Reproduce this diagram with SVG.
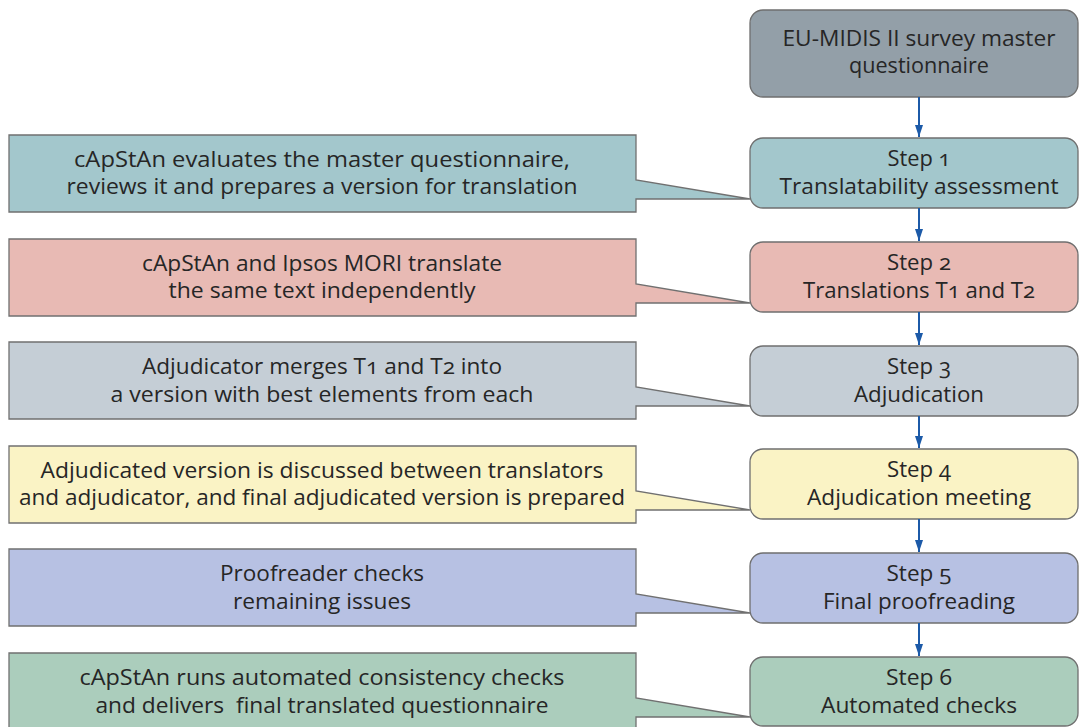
<svg xmlns="http://www.w3.org/2000/svg" width="1079" height="727" viewBox="0 0 1079 727">
<defs>
<marker id="ah" markerWidth="12" markerHeight="8" refX="12" refY="4" orient="auto" markerUnits="userSpaceOnUse" viewBox="0 0 12 8">
<path d="M0,0 L12,4 L0,8 Z" fill="#1c5aa8"/>
</marker>
<style>
text{font-family:"Open Sans","Noto Sans","Liberation Sans",sans-serif;font-size:21px;fill:#262626;text-anchor:middle;font-variant-numeric:oldstyle-nums}
.box{stroke:#6f6f6f;stroke-width:1.3}
.co{stroke:#707070;stroke-width:1.3;stroke-linejoin:miter}
.conn{stroke:#1c5aa8;stroke-width:2;fill:none}
.g0{fill:#939fa8}.g1{fill:#a3c7cc}.g2{fill:#e8bab4}.g3{fill:#c5ced6}.g4{fill:#faf3c5}.g5{fill:#b7c1e3}.g6{fill:#abcdbc}
</style>
</defs>
<rect width="1079" height="727" fill="#ffffff"/>

<g id="callout1">
<path class="co g1" d="M9,135 H636 V180 L750,199 H636 V212 H9 Z"/>
<text x="322" y="167" textLength="496" lengthAdjust="spacingAndGlyphs">cApStAn evaluates the master questionnaire,</text>
<text x="322" y="194" textLength="511" lengthAdjust="spacingAndGlyphs">reviews it and prepares a version for translation</text>
</g>
<g id="callout2">
<path class="co g2" d="M9,239 H636 V284 L750,303 H636 V316 H9 Z"/>
<text x="322" y="271" textLength="360" lengthAdjust="spacingAndGlyphs">cApStAn and Ipsos MORI translate</text>
<text x="322" y="298" textLength="307" lengthAdjust="spacingAndGlyphs">the same text independently</text>
</g>
<g id="callout3">
<path class="co g3" d="M9,342 H636 V387 L750,406 H636 V419 H9 Z"/>
<text x="322" y="374" textLength="360" lengthAdjust="spacingAndGlyphs">Adjudicator merges T1 and T2 into</text>
<text x="322" y="402" textLength="423" lengthAdjust="spacingAndGlyphs">a version with best elements from each</text>
</g>
<g id="callout4">
<path class="co g4" d="M9,446 H636 V491 L750,510 H636 V523 H9 Z"/>
<text x="322" y="478" textLength="563" lengthAdjust="spacingAndGlyphs">Adjudicated version is discussed between translators</text>
<text x="322" y="505" textLength="606" lengthAdjust="spacingAndGlyphs">and adjudicator, and final adjudicated version is prepared</text>
</g>
<g id="callout5">
<path class="co g5" d="M9,549 H636 V594 L750,613 H636 V626 H9 Z"/>
<text x="322" y="581" textLength="204" lengthAdjust="spacingAndGlyphs">Proofreader checks</text>
<text x="322" y="609" textLength="178" lengthAdjust="spacingAndGlyphs">remaining issues</text>
</g>
<g id="callout6">
<path class="co g6" d="M9,653 H636 V698 L750,717 H636 V730 H9 Z"/>
<text x="322" y="685" textLength="485" lengthAdjust="spacingAndGlyphs">cApStAn runs automated consistency checks</text>
<text x="322" y="713" textLength="453" lengthAdjust="spacingAndGlyphs" xml:space="preserve">and delivers  final translated questionnaire</text>
</g>

<g id="master">
<rect class="box g0" x="750" y="10" width="328" height="87" rx="13"/>
<text x="919" y="46" textLength="273" lengthAdjust="spacingAndGlyphs">EU-MIDIS II survey master</text>
<text x="919" y="73" textLength="140" lengthAdjust="spacingAndGlyphs">questionnaire</text>
</g>
<g id="step1">
<rect class="box g1" x="750" y="138" width="328" height="70" rx="13"/>
<text x="919" y="166" textLength="63" lengthAdjust="spacingAndGlyphs">Step 1</text>
<text x="919" y="194" textLength="279" lengthAdjust="spacingAndGlyphs">Translatability assessment</text>
</g>
<g id="step2">
<rect class="box g2" x="750" y="242" width="328" height="70" rx="13"/>
<text x="919" y="270" textLength="64" lengthAdjust="spacingAndGlyphs">Step 2</text>
<text x="919" y="298" textLength="232" lengthAdjust="spacingAndGlyphs">Translations T1 and T2</text>
</g>
<g id="step3">
<rect class="box g3" x="750" y="346" width="328" height="70" rx="13"/>
<text x="919" y="374" textLength="64" lengthAdjust="spacingAndGlyphs">Step 3</text>
<text x="919" y="402" textLength="130" lengthAdjust="spacingAndGlyphs">Adjudication</text>
</g>
<g id="step4">
<rect class="box g4" x="750" y="449" width="328" height="70" rx="13"/>
<text x="919" y="477" textLength="64" lengthAdjust="spacingAndGlyphs">Step 4</text>
<text x="919" y="505" textLength="224" lengthAdjust="spacingAndGlyphs">Adjudication meeting</text>
</g>
<g id="step5">
<rect class="box g5" x="750" y="553" width="328" height="70" rx="13"/>
<text x="919" y="581" textLength="65" lengthAdjust="spacingAndGlyphs">Step 5</text>
<text x="919" y="609" textLength="192" lengthAdjust="spacingAndGlyphs">Final proofreading</text>
</g>
<g id="step6">
<rect class="box g6" x="750" y="657" width="328" height="69" rx="13"/>
<text x="919" y="685" textLength="66" lengthAdjust="spacingAndGlyphs">Step 6</text>
<text x="919" y="713" textLength="196" lengthAdjust="spacingAndGlyphs">Automated checks</text>
</g>

<g id="connectors">
<line class="conn" x1="919" y1="97" x2="919" y2="137" marker-end="url(#ah)"/>
<line class="conn" x1="919" y1="208" x2="919" y2="241" marker-end="url(#ah)"/>
<line class="conn" x1="919" y1="312" x2="919" y2="345" marker-end="url(#ah)"/>
<line class="conn" x1="919" y1="416" x2="919" y2="448" marker-end="url(#ah)"/>
<line class="conn" x1="919" y1="519" x2="919" y2="552" marker-end="url(#ah)"/>
<line class="conn" x1="919" y1="623" x2="919" y2="656" marker-end="url(#ah)"/>
</g>
</svg>
